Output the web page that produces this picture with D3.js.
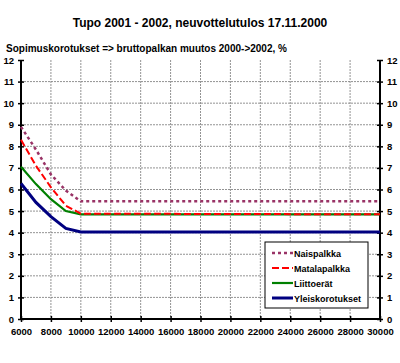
<!DOCTYPE html>
<html>
<head>
<meta charset="utf-8">
<script src="https://cdn.jsdelivr.net/npm/d3@7"></script>
<style>
  body { margin: 0; background: #fff; }
  text { font-family: "Liberation Sans", Arial, sans-serif; font-weight: bold; }
</style>
</head>
<body>
<div id="chart"></div>
<script>
// data
var palkat = [6000, 7000, 8000, 9000, 10000, 30000];
var naispalkka = [8.9, 7.85, 6.7, 5.95, 5.45, 5.45];
var matalapalkka = [8.3, 7.1, 6.1, 5.25, 4.88, 4.85];
var liittoerat = [7.05, 6.25, 5.55, 5.0, 4.85, 4.85];
var yleiskorotukset = [6.28, 5.4, 4.74, 4.2, 4.03, 4.03];
var xTicks = d3.range(6000, 30001, 2000);
var yTicks = d3.range(0, 13, 1);

var margin = {top: 60, right: 20, bottom: 44, left: 21},
    width = 400 - margin.left - margin.right,
    height = 363 - margin.top - margin.bottom;

var svg = d3.select("#chart")
  .append("svg")
    .attr("width", 400)
    .attr("height", 363);

svg.append("text")
  .attr("x", 200)
  .attr("y", 27)
  .attr("text-anchor", "middle")
  .style("font-size", "12px")
  .text("Tupo 2001 - 2002, neuvottelutulos 17.11.2000");

svg.append("text")
  .attr("x", 6)
  .attr("y", 52)
  .style("font-size", "10px")
  .text("Sopimuskorotukset => bruttopalkan muutos 2000->2002, %");

var g = svg.append("g")
  .attr("transform", "translate(" + margin.left + "," + margin.top + ")");

var x = d3.scaleLinear().domain([6000, 30000]).range([0, width]);
var y = d3.scaleLinear().domain([0, 12]).range([height, 0]);

// grid
g.selectAll(".hgrid")
  .data(yTicks.filter(function(d) { return d > 0 && d < 12; }))
  .enter().append("line")
    .attr("x1", 0).attr("x2", width)
    .attr("y1", function(d) { return y(d); })
    .attr("y2", function(d) { return y(d); })
    .attr("stroke", "#777")
    .attr("stroke-width", 0.8)
    .attr("stroke-dasharray", "2,1");

g.selectAll(".vgrid")
  .data(xTicks.filter(function(d) { return d > 6000 && d < 30000; }))
  .enter().append("line")
    .attr("y1", 0).attr("y2", height)
    .attr("x1", function(d) { return x(d); })
    .attr("x2", function(d) { return x(d); })
    .attr("stroke", "#777")
    .attr("stroke-width", 0.8)
    .attr("stroke-dasharray", "2,1");

// axes
var left = g.append("g")
  .call(d3.axisLeft(y).tickValues(yTicks).tickSize(3).tickPadding(4));
var right = g.append("g")
  .attr("transform", "translate(" + width + ",0)")
  .call(d3.axisRight(y).tickValues(yTicks).tickSize(3).tickPadding(4));
var bottom = g.append("g")
  .attr("transform", "translate(0," + height + ")")
  .call(d3.axisBottom(x).tickValues(xTicks).tickSize(3).tickPadding(6).tickFormat(d3.format("d")));

[left, right, bottom].forEach(function(a) {
  a.select(".domain").attr("stroke", "#000").attr("stroke-width", 2);
  a.selectAll(".tick line").attr("stroke", "#000").attr("stroke-width", 1.5);
  a.selectAll(".tick text").style("font-size", "9.5px").attr("fill", "#000");
});
left.selectAll(".tick line").attr("x1", 3);
right.selectAll(".tick line").attr("x1", -3);
bottom.selectAll(".tick line").attr("y1", -3);
left.select(".domain").attr("d", "M0,0V" + height);
right.select(".domain").attr("d", "M0,0V" + height);
bottom.select(".domain").attr("d", "M0,0H" + width);

// series
var series = [
  {name: "Naispalkka", values: naispalkka, color: "#993366", w: 2.5, dash: "3,3"},
  {name: "Matalapalkka", values: matalapalkka, color: "#ff0000", w: 2, dash: "7,3"},
  {name: "Liittoerät", values: liittoerat, color: "#008000", w: 2.2, dash: null},
  {name: "Yleiskorotukset", values: yleiskorotukset, color: "#000080", w: 3, dash: null}
];

var line = d3.line()
  .x(function(d, i) { return x(palkat[i]); })
  .y(function(d) { return y(d); });

series.slice().reverse().forEach(function(s) {
  g.append("path")
    .datum(s.values)
    .attr("d", line)
    .attr("fill", "none")
    .attr("stroke", s.color)
    .attr("stroke-width", s.w)
    .attr("stroke-dasharray", s.dash);
});

// legend
var lg = svg.append("g").attr("transform", "translate(265,242)");
lg.append("rect")
  .attr("width", 103).attr("height", 66)
  .attr("fill", "#fff").attr("stroke", "#000").attr("stroke-width", 1);

series.forEach(function(s, i) {
  var yy = 11 + i * 15;
  lg.append("line")
    .attr("x1", 7).attr("x2", 28)
    .attr("y1", yy).attr("y2", yy)
    .attr("stroke", s.color)
    .attr("stroke-width", s.w)
    .attr("stroke-dasharray", s.dash);
  lg.append("text")
    .attr("x", 29).attr("y", yy + 3.5)
    .style("font-size", "9px")
    .text(s.name);
});
</script>
</body>
</html>
